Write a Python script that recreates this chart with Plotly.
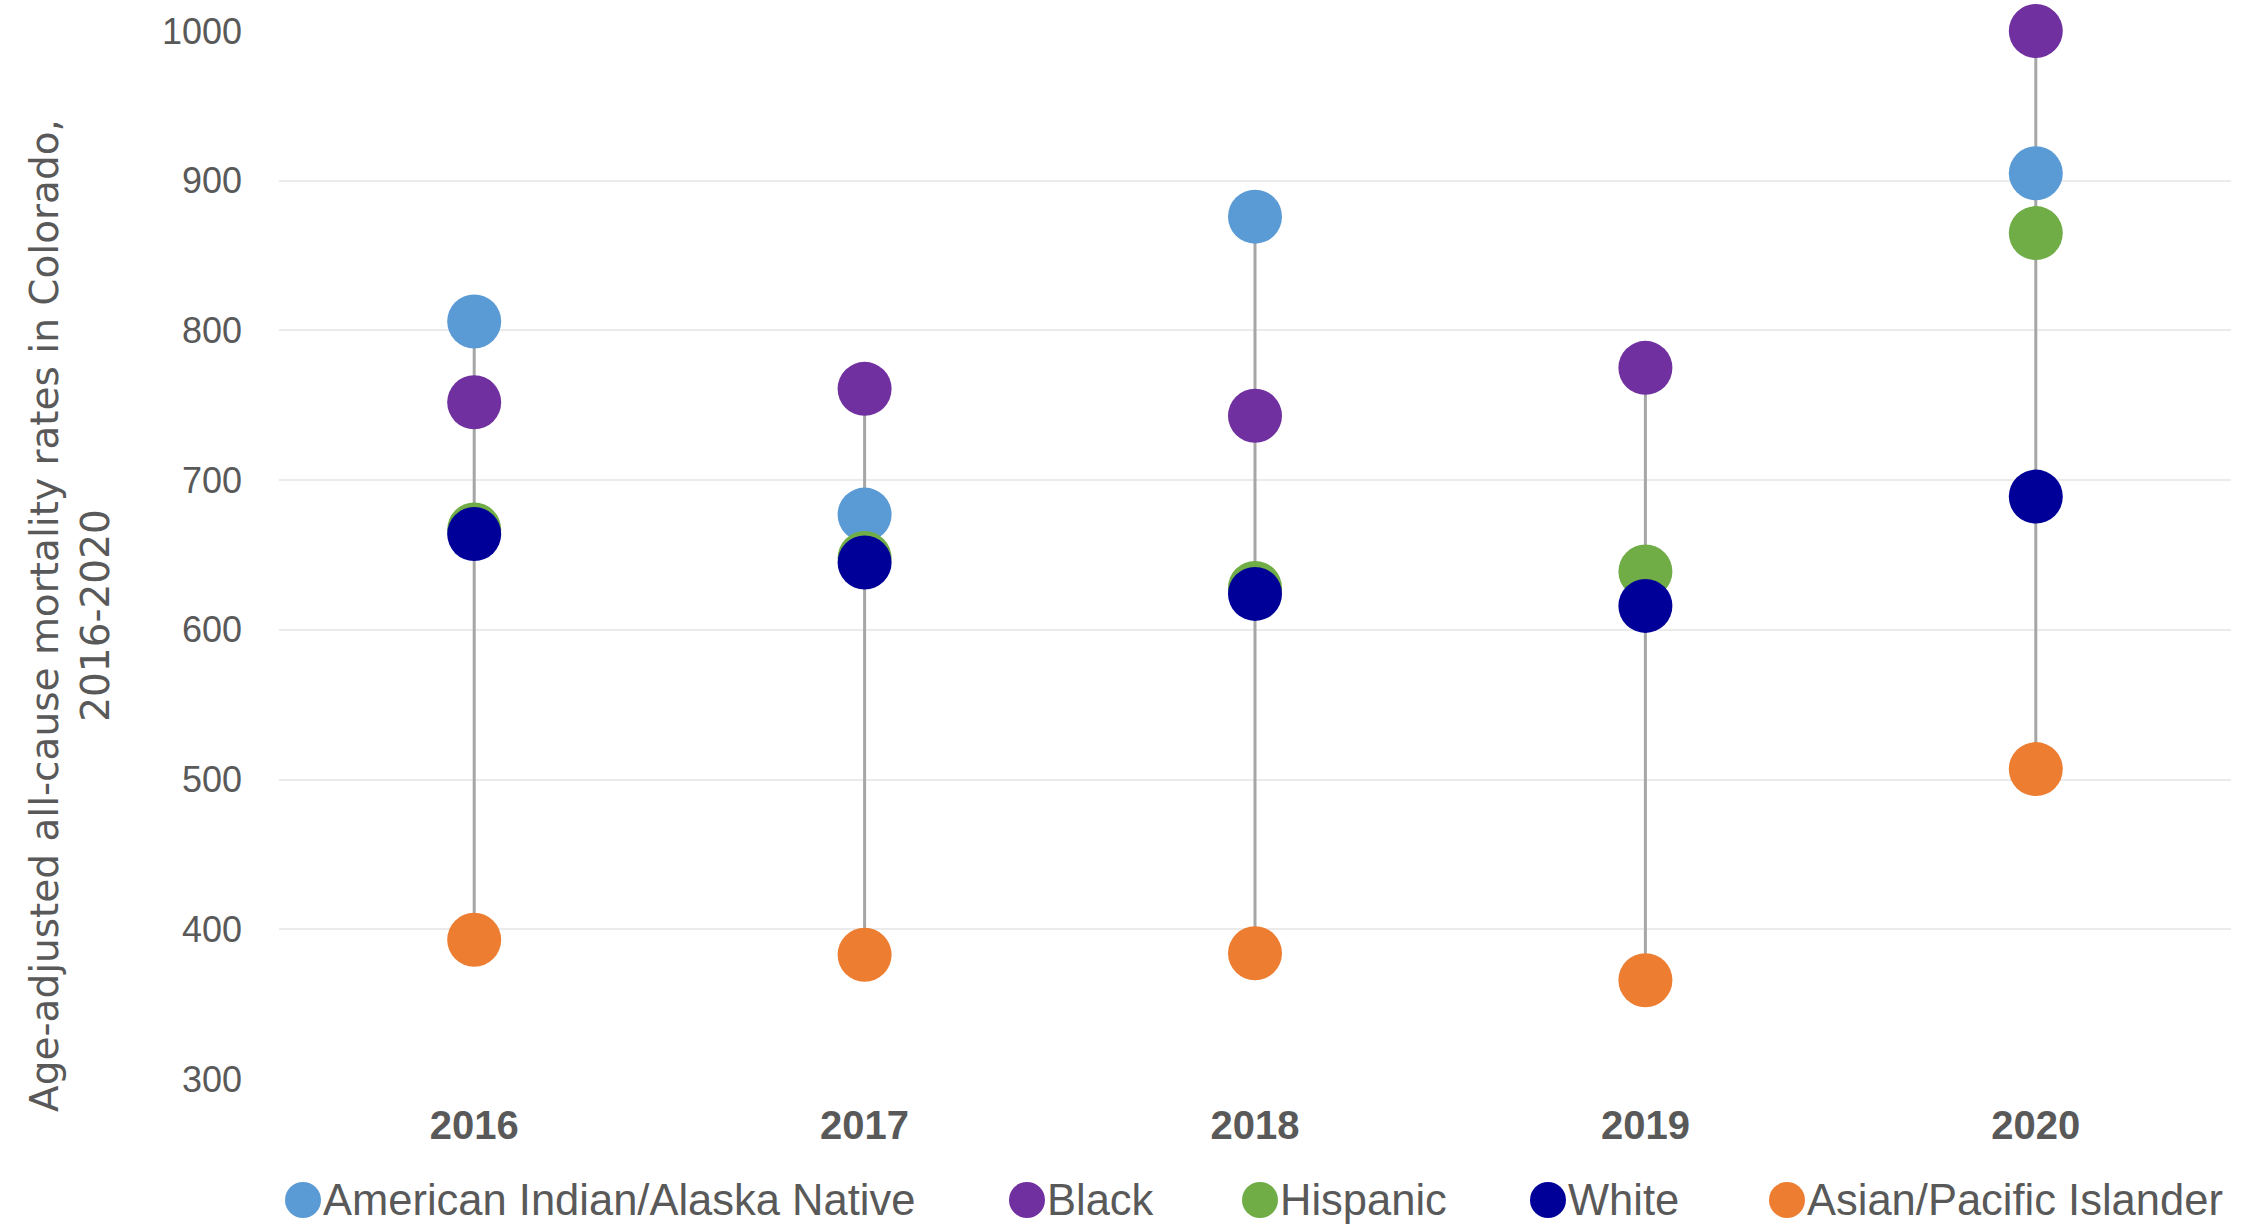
import plotly.graph_objects as go

# ---- data ----
years = ["2016", "2017", "2018", "2019", "2020"]
aian = [806, 677, 876, None, 905]
black = [752, 761, 743, 775, 1000]
hispanic = [667, 648, 628, 639, 865]
white = [664, 645, 624, 616, 689]
api = [393, 383, 384, 366, 507]

series_names = ["American Indian/Alaska Native", "Black", "Hispanic", "White",
                "Asian/Pacific Islander"]
series_values = [aian, black, hispanic, white, api]
colors = ["#5B9BD5", "#7030A0", "#70AD47", "#000099", "#ED7D31"]

y_ticks = [300, 400, 500, 600, 700, 800, 900, 1000]

# ---- figure ----
W, H = 2247, 1226
L, R, T, B = 279, 16, 31, 147
plot_w = W - L - R
plot_h = H - T - B

fig = go.Figure()

# high-low lines computed from data
hx, hy = [], []
for i, yr in enumerate(years):
    vals = [s[i] for s in series_values if s[i] is not None]
    hx += [yr, yr, None]
    hy += [min(vals), max(vals), None]
fig.add_trace(go.Scatter(x=hx, y=hy, mode="lines",
                         line=dict(color="#A6A6A6", width=3),
                         hoverinfo="skip", showlegend=False, cliponaxis=False))

for name, vals, c in zip(series_names, series_values, colors):
    fig.add_trace(go.Scatter(x=years, y=vals, mode="markers", name=name,
                             marker=dict(color=c, size=54, line=dict(width=0)),
                             showlegend=False, cliponaxis=False))

# custom legend (large markers)
legend_px = [303, 1027, 1260, 1548, 1787]
legend_py = 1200
ly = (H - B - legend_py) / plot_h
shapes = []
annotations = []
for name, c, px in zip(series_names, colors, legend_px):
    lx = (px - L) / plot_w
    shapes.append(dict(type="circle", xref="paper", yref="paper",
                       xsizemode="pixel", ysizemode="pixel",
                       xanchor=lx, yanchor=ly, x0=-18, x1=18, y0=-18, y1=18,
                       fillcolor=c, line=dict(width=0)))
    annotations.append(dict(text=name, xref="paper", yref="paper", x=lx, y=ly,
                            xanchor="left", yanchor="middle", xshift=19,
                            showarrow=False, borderpad=0,
                            font=dict(family="Liberation Sans, Arial, sans-serif",
                                      size=43.5, color="#595959")))

# y-axis title as annotation
annotations.append(dict(
    text="Age-adjusted all-cause mortality rates in Colorado,<br>2016-2020",
    xref="paper", yref="paper", x=(70 - L) / plot_w, y=(H - B - 616) / plot_h,
    xanchor="center", yanchor="middle", textangle=-90, showarrow=False,
    font=dict(family="DejaVu Sans, sans-serif", size=39, color="#595959")))

fig.update_layout(
    width=W, height=H,
    margin=dict(l=L, r=R, t=T, b=B),
    paper_bgcolor="white", plot_bgcolor="white",
    showlegend=False,
    shapes=shapes, annotations=annotations,
    xaxis=dict(type="category", categoryorder="array", categoryarray=years,
               range=[-0.5, len(years) - 0.5], showgrid=False, zeroline=False,
               showline=False, ticks="", ticklabelstandoff=19,
               tickfont=dict(family="Liberation Sans, Arial, sans-serif", size=40,
                             color="#595959", weight="bold")),
    yaxis=dict(range=[300, 1000], tickvals=y_ticks, showgrid=True,
               gridcolor="#EBEBEB", gridwidth=2, zeroline=False, showline=False,
               ticks="", ticklabelstandoff=36,
               tickfont=dict(family="Liberation Sans, Arial, sans-serif", size=36,
                             color="#595959")),
)

fig.write_html("out.html",
               config={"displayModeBar": False},
               post_script="document.body.style.margin='0';"
                           "document.body.style.overflow='hidden';")
